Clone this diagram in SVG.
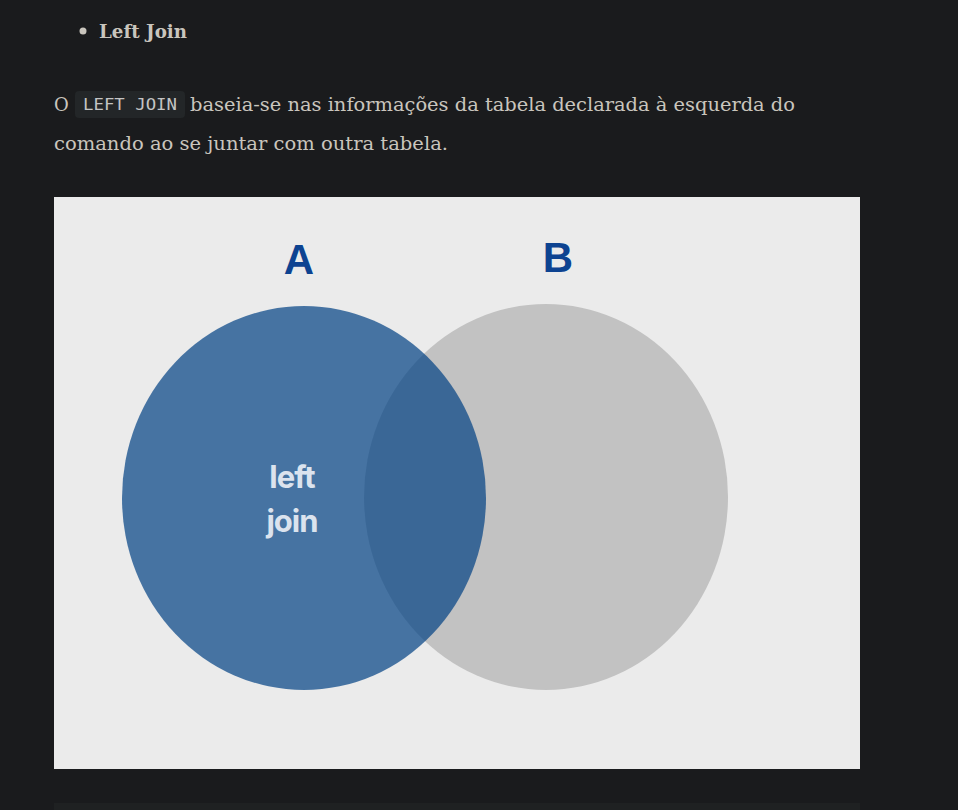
<svg xmlns="http://www.w3.org/2000/svg" width="958" height="810" viewBox="0 0 958 810">
<style>
.body{font-family:"DejaVu Serif","Liberation Serif",serif;font-size:18px;fill:#c9c5bd}
.code{font-family:"DejaVu Sans Mono","Liberation Mono",monospace;font-size:15px;fill:#c4c4c4}
.lbl{font-family:"Liberation Sans",Arial,sans-serif;font-weight:bold;font-size:42px;fill:#0d4391;text-anchor:middle}
.in{font-family:Inter,"Liberation Sans",sans-serif;font-weight:bold;font-size:31px;fill:#dbe3ee;text-anchor:middle;letter-spacing:-1px}
</style>
<rect width="958" height="810" fill="#1a1b1d"/>
<g id="heading">
<circle cx="83" cy="31" r="3.5" fill="#c9c5bd"/>
<text x="99" y="38" class="body" font-weight="bold" textLength="88" lengthAdjust="spacingAndGlyphs">Left Join</text>
</g>
<g id="paragraph">
<rect x="75" y="91" width="110" height="27" rx="4" fill="#232628"/>
<text x="54" y="111" class="body">O</text>
<text x="83" y="110" class="code" textLength="94" lengthAdjust="spacingAndGlyphs">LEFT JOIN</text>
<text x="190" y="111" class="body" textLength="605" lengthAdjust="spacingAndGlyphs">baseia-se nas informações da tabela declarada à esquerda do</text>
<text x="54" y="150" class="body" textLength="394" lengthAdjust="spacingAndGlyphs">comando ao se juntar com outra tabela.</text>
</g>
<g id="figure">
<rect x="54" y="197" width="806" height="572" fill="#ebebeb"/>
<g id="setB"><ellipse cx="546" cy="497" rx="182" ry="193" fill="#c2c2c2"/></g>
<g id="setA"><ellipse cx="304" cy="498" rx="182" ry="192" fill="#034284" fill-opacity="0.71"/></g>
<text x="299" y="274" class="lbl">A</text>
<text x="558" y="272" class="lbl">B</text>
<text x="292" y="488" class="in">left</text>
<text x="292" y="532" class="in">join</text>
</g>
<rect x="54" y="803" width="806" height="7" fill="#1f2122"/>
</svg>
